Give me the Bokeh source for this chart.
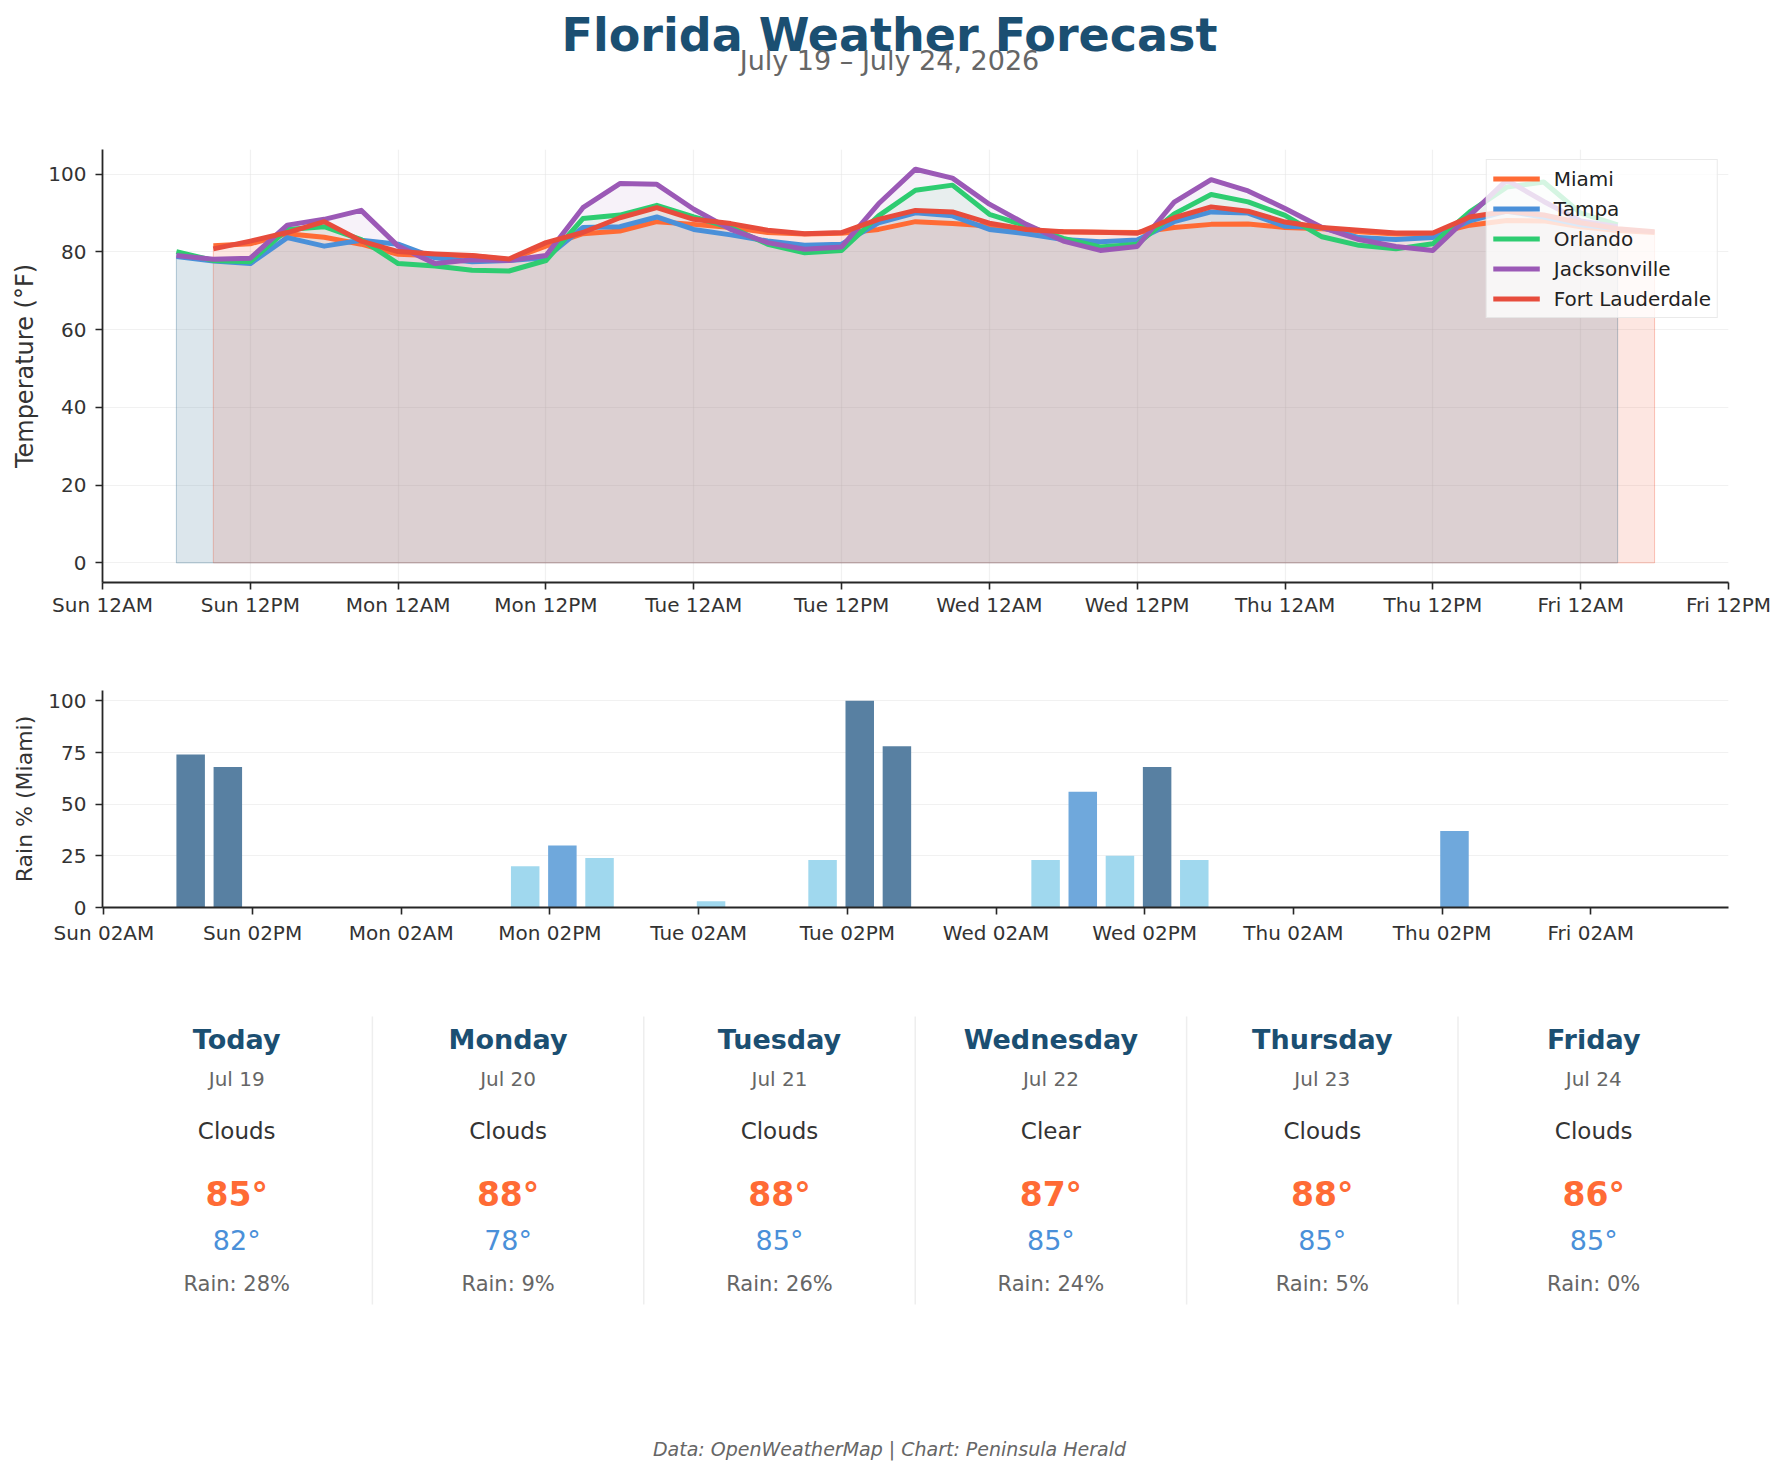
from bokeh.plotting import figure
from bokeh.layouts import column
from bokeh.models import Range1d, FixedTicker, ColumnDataSource
from bokeh.core.properties import value
from bokeh.embed import file_html
from bokeh.resources import INLINE

FONT = "DejaVu Sans"
PAGE_W = 1788

# ---------------------------------------------------------------- data
# forecast steps, in hours after Sun Jul 19 00:00 (3-hourly)
hours_inland = list(range(6, 124, 3))   # Tampa, Orlando, Jacksonville
hours_coast = list(range(9, 127, 3))    # Miami, Fort Lauderdale

miami = [81.6, 82.1, 84.7, 83.8, 82.0, 79.4, 79.0, 79.0, 78.0, 81.5,
         84.7, 85.4, 87.8, 87.1, 86.3, 85.0, 84.6, 84.8, 85.8, 87.8,
         87.3, 86.7, 85.4, 85.2, 85.1, 85.0, 86.3, 87.1, 87.2, 86.3,
         86.0, 85.2, 84.6, 84.6, 86.9, 88.1, 88.0, 86.5, 85.5, 85.0]
tampa = [78.8, 77.7, 77.0, 83.7, 81.5, 83.0, 82.0, 78.5, 77.5, 77.8,
         78.5, 86.3, 86.5, 89.0, 85.8, 84.4, 82.8, 81.7, 82.0, 87.5,
         90.1, 89.3, 85.8, 84.7, 83.2, 82.6, 83.1, 87.8, 90.3, 90.0,
         86.6, 86.3, 83.7, 83.2, 83.7, 88.0, 90.5, 89.0, 87.0, 86.0]
orlando = [80.1, 77.8, 77.5, 85.8, 86.5, 83.2, 77.0, 76.4, 75.3, 75.1,
           77.8, 88.6, 89.5, 92.0, 89.0, 86.3, 82.0, 79.8, 80.4, 89.3,
           95.9, 97.2, 89.7, 86.7, 83.5, 81.3, 82.0, 89.8, 94.8, 92.9,
           89.4, 83.9, 81.7, 80.8, 82.1, 90.3, 96.7, 98.0, 90.0, 87.0]
jacksonville = [79.1, 78.1, 78.4, 86.9, 88.4, 90.7, 81.5, 77.0, 78.0, 77.8,
                79.1, 91.4, 97.6, 97.4, 91.0, 85.8, 82.4, 80.7, 81.3, 92.4,
                101.3, 99.0, 92.3, 87.1, 82.8, 80.4, 81.4, 92.8, 98.6, 95.7,
                91.2, 86.3, 83.2, 81.4, 80.4, 89.4, 98.5, 93.0, 88.0, 86.5]
fort_lauderdale = [80.8, 82.8, 85.0, 87.8, 82.8, 80.1, 79.5, 79.1, 78.2, 82.4,
                   85.0, 88.8, 91.4, 88.4, 87.3, 85.6, 84.7, 85.0, 88.4, 90.7,
                   90.3, 87.4, 85.8, 85.2, 85.1, 84.8, 88.8, 91.6, 90.5, 87.7,
                   86.3, 85.6, 84.9, 84.9, 89.0, 90.5, 89.5, 87.5, 86.0, 85.2]

# Miami probability of precipitation (%) at each coastal step
miami_rain = [74, 68, 0, 0, 0, 0, 0, 0, 0, 20,
              30, 24, 0, 0, 3, 0, 0, 23, 100, 78,
              0, 0, 0, 23, 56, 25, 68, 23, 0, 0,
              0, 0, 0, 0, 37, 0, 0, 0, 0, 0]

temp_tick_hours = [0, 12, 24, 36, 48, 60, 72, 84, 96, 108, 120, 132]
temp_tick_labels = ["Sun 12AM", "Sun 12PM", "Mon 12AM", "Mon 12PM",
                    "Tue 12AM", "Tue 12PM", "Wed 12AM", "Wed 12PM",
                    "Thu 12AM", "Thu 12PM", "Fri 12AM", "Fri 12PM"]
rain_tick_hours = [2, 14, 26, 38, 50, 62, 74, 86, 98, 110, 122]
rain_tick_labels = ["Sun 02AM", "Sun 02PM", "Mon 02AM", "Mon 02PM",
                    "Tue 02AM", "Tue 02PM", "Wed 02AM", "Wed 02PM",
                    "Thu 02AM", "Thu 02PM", "Fri 02AM"]

day_names = ["Today", "Monday", "Tuesday", "Wednesday", "Thursday", "Friday"]
day_dates = ["Jul 19", "Jul 20", "Jul 21", "Jul 22", "Jul 23", "Jul 24"]
day_conditions = ["Clouds", "Clouds", "Clouds", "Clear", "Clouds", "Clouds"]
day_highs = [85, 88, 88, 87, 88, 86]
day_lows = [82, 78, 85, 85, 85, 85]
day_rain = [28, 9, 26, 24, 5, 0]

series = [
    ("Miami", hours_coast, miami, "#ff6b35"),
    ("Tampa", hours_inland, tampa, "#4a90d9"),
    ("Orlando", hours_inland, orlando, "#2ecc71"),
    ("Jacksonville", hours_inland, jacksonville, "#9b59b6"),
    ("Fort Lauderdale", hours_coast, fort_lauderdale, "#e74c3c"),
]

TITLE_BLUE = "#1b4f72"
AXIS_DARK = "#262626"
TEXT_DARK = "#333333"
TEXT_GRAY = "#666666"


def bare(height, y_top):
    """A figure with no axes whose data units are page pixels (y downwards)."""
    f = figure(width=PAGE_W, height=height, output_backend="svg",
               toolbar_location=None, x_axis_location=None,
               y_axis_location=None, min_border=0, frame_align=False,
               x_range=Range1d(0, PAGE_W),
               y_range=Range1d(y_top + height, y_top))
    f.min_border_left = f.min_border_right = 0
    f.min_border_top = f.min_border_bottom = 0
    f.grid.visible = False
    f.outline_line_color = None
    f.background_fill_color = "white"
    f.border_fill_color = "white"
    return f


def style_axes(f, label_size, label_standoff):
    for ax in (f.xaxis[0], f.yaxis[0]):
        ax.axis_line_color = AXIS_DARK
        ax.axis_line_width = 1.8
        ax.major_tick_line_color = AXIS_DARK
        ax.major_tick_line_width = 1.6
        ax.major_tick_out = 7
        ax.major_tick_in = 0
        ax.minor_tick_line_color = None
        ax.major_label_text_font = FONT
        ax.major_label_text_font_size = "20px"
        ax.major_label_text_color = TEXT_DARK
        ax.axis_label_text_font = FONT
        ax.axis_label_text_font_size = label_size
        ax.axis_label_text_font_style = "normal"
        ax.axis_label_text_color = TEXT_DARK
    f.yaxis.major_label_standoff = 9
    f.yaxis.axis_label_standoff = label_standoff
    f.outline_line_color = None


# ---------------------------------------------------------------- header
header = bare(140, 0)
header.text(x=[889], y=[34], text=["Florida Weather Forecast"],
            text_font=value(FONT), text_font_size="46px",
            text_font_style="bold", text_color=TITLE_BLUE,
            text_align="center", text_baseline="alphabetic")
header.text(x=[889], y=[60], text=["July 19 \u2013 July 24, 2026"],
            text_font=value(FONT), text_font_size="27px",
            text_color=TEXT_GRAY, text_align="center",
            text_baseline="alphabetic")

# ---------------------------------------------------------------- temperatures
p1 = figure(width=PAGE_W, height=510, output_backend="svg",
            toolbar_location=None, frame_align=False,
            x_range=Range1d(0, 132), y_range=Range1d(-5.07, 106.37))
p1.min_border_left = 102
p1.min_border_right = 60
p1.min_border_top = 9
p1.min_border_bottom = 68

for name, hrs, temps, color in series:
    p1.patch(x=[hrs[0]] + hrs + [hrs[-1]], y=[0] + temps + [0],
             fill_color=color, fill_alpha=0.08,
             line_color=color, line_alpha=0.18, line_width=1)
for name, hrs, temps, color in series:
    p1.line(x=hrs, y=temps, line_color=color, line_width=5,
            line_join="round", legend_label=name)

p1.xaxis.ticker = FixedTicker(ticks=temp_tick_hours)
p1.xaxis.major_label_overrides = dict(zip(temp_tick_hours, temp_tick_labels))
p1.yaxis.ticker = FixedTicker(ticks=[0, 20, 40, 60, 80, 100])
p1.yaxis.axis_label = "Temperature (\u00b0F)"
style_axes(p1, "24px", 6)
p1.xaxis.major_label_standoff = 3
p1.xgrid.ticker = FixedTicker(ticks=temp_tick_hours)
p1.grid.grid_line_color = "#e4e4e4"
p1.grid.grid_line_alpha = 0.5
p1.grid.grid_line_width = 1.2

lg = p1.legend[0]
lg.location = "top_right"
lg.margin = 10
lg.padding = 6
lg.spacing = 5
lg.glyph_width = 47
lg.glyph_height = 25
lg.label_height = 25
lg.label_standoff = 14
lg.label_text_font = FONT
lg.label_text_font_size = "20px"
lg.label_text_color = "#222222"
lg.border_line_color = "#d5d5d5"
lg.border_line_width = 1.5
lg.background_fill_color = "white"
lg.background_fill_alpha = 0.8

# ---------------------------------------------------------------- rain bars
bar_colors = ["#5880a2" if r >= 60 else ("#6fa8dc" if r >= 30 else "#a0d8ee")
              for r in miami_rain]
rain_src = ColumnDataSource(dict(h=hours_coast, rain=miami_rain, color=bar_colors))

p2 = figure(width=PAGE_W, height=330, output_backend="svg",
            toolbar_location=None, frame_align=False,
            x_range=Range1d(1.885, 133.115), y_range=Range1d(0, 105))
p2.min_border_left = 102
p2.min_border_right = 60
p2.min_border_top = 40
p2.min_border_bottom = 73
p2.vbar(x="h", top="rain", bottom=0, width=2.3, fill_color="color",
        line_color=None, source=rain_src)
p2.xaxis.ticker = FixedTicker(ticks=rain_tick_hours)
p2.xaxis.major_label_overrides = dict(zip(rain_tick_hours, rain_tick_labels))
p2.yaxis.ticker = FixedTicker(ticks=[0, 25, 50, 75, 100])
p2.yaxis.axis_label = "Rain % (Miami)"
style_axes(p2, "22px", 8)
p2.xaxis.major_label_standoff = 6
p2.xgrid.grid_line_color = None
p2.ygrid.grid_line_color = "#e4e4e4"
p2.ygrid.grid_line_alpha = 0.5
p2.ygrid.grid_line_width = 1.2

# ---------------------------------------------------------------- daily cards
cards = bare(494, 980)
col_left, col_w = 100.5, 271.4
centers = [col_left + (i + 0.5) * col_w for i in range(len(day_names))]
sep_x = [col_left + i * col_w for i in range(1, len(day_names))]
cards.segment(x0=sep_x, y0=[1016] * len(sep_x), x1=sep_x, y1=[1304] * len(sep_x),
              line_color="#eeeeee", line_width=1.5)

card_src = ColumnDataSource(dict(
    x=centers,
    name=day_names,
    date=day_dates,
    cond=day_conditions,
    hi=[f"{v}\u00b0" for v in day_highs],
    lo=[f"{v}\u00b0" for v in day_lows],
    rain=[f"Rain: {v}%" for v in day_rain],
))
rows = [
    ("name", 1038.5, "27px", "bold", TITLE_BLUE),
    ("date", 1078, "20px", "normal", TEXT_GRAY),
    ("cond", 1130, "23px", "normal", TEXT_DARK),
    ("hi", 1194, "33px", "bold", "#ff6b35"),
    ("lo", 1239.5, "27px", "normal", "#4a90d9"),
    ("rain", 1283.5, "21px", "normal", TEXT_GRAY),
]
for field, base_y, size, weight, color in rows:
    cards.text(x="x", y=value(base_y), text=field, source=card_src,
               text_font=value(FONT), text_font_size=size,
               text_font_style=weight, text_color=color,
               text_align="center", text_baseline="alphabetic")

cards.text(x=[889], y=[1448],
           text=["Data: OpenWeatherMap | Chart: Peninsula Herald"],
           text_font=value(FONT), text_font_size="19px",
           text_font_style="italic", text_color=TEXT_GRAY,
           text_align="center", text_baseline="alphabetic")

layout = column(header, p1, p2, cards, spacing=0)
open("out.html", "w").write(file_html(layout, INLINE))
